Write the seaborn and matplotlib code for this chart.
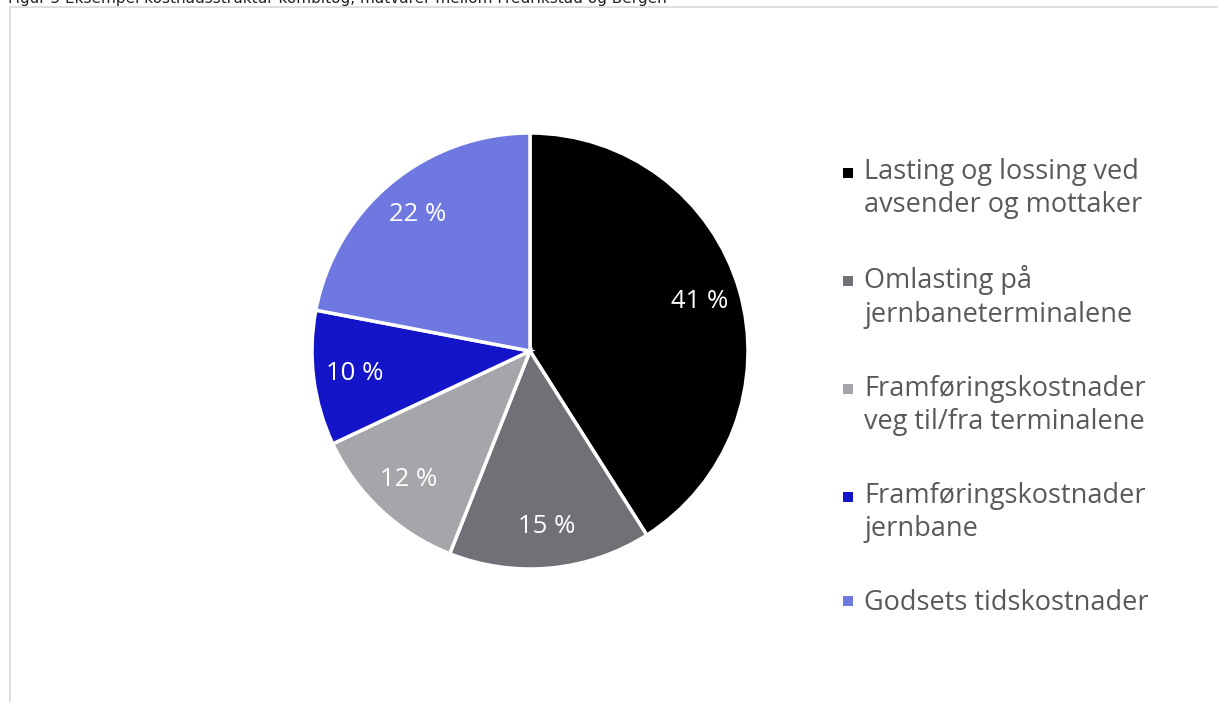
import matplotlib
matplotlib.use("Agg")
import matplotlib.pyplot as plt
import seaborn as sns
from matplotlib.patches import Rectangle
from matplotlib.legend_handler import HandlerPatch

# ---- data ----
categories = [
    "Lasting og lossing ved\navsender og mottaker",
    "Omlasting på\njernbaneterminalene",
    "Framføringskostnader\nveg til/fra terminalene",
    "Framføringskostnader\njernbane",
    "Godsets tidskostnader",
]
shares = [41, 15, 12, 10, 22]
value_labels = ["41 %", "15 %", "12 %", "10 %", "22 %"]
colors = ["#000000", "#707176", "#A5A6A9", "#1414C8", "#6E78E0"]
caption = "Figur 5 Eksempel kostnadsstruktur kombitog, matvarer mellom Fredrikstad og Bergen"

sns.set_theme(style="white")
plt.rcParams["font.family"] = ["Open Sans", "DejaVu Sans"]

W, H = 1218, 702
fig = plt.figure(figsize=(W / 100, H / 100), dpi=100)
fig.patch.set_facecolor("white")

# outer frame (partially cropped)
fig.add_artist(Rectangle((10 / W, -0.2), 1.5, 1.2 - 7 / H, transform=fig.transFigure,
                         fill=False, edgecolor="#D9D9D9", linewidth=1.2))

# caption (cut at top edge, as in the source)
fig.text(8 / W, 1 - 3 / H, caption, ha="left", va="baseline", fontsize=11,
         family=["Liberation Sans Narrow", "DejaVu Sans"], color="#222222")

cx, cy, r = 530, 351, 218
ax = fig.add_axes([(cx - r) / W, (H - cy - r) / H, 2 * r / W, 2 * r / H])
pal = sns.color_palette(colors)
wedges, texts = ax.pie(shares, colors=pal, startangle=90, counterclock=False,
                       labels=value_labels, labeldistance=0.81,
                       wedgeprops=dict(edgecolor="white", linewidth=2.5),
                       textprops=dict(color="white", fontsize=18.5))
for t in texts:
    t.set_ha("center")
    t.set_va("center")
ax.set_xlim(-1, 1)
ax.set_ylim(-1, 1)
ax.set_aspect("equal")
ax.axis("off")

LS = 1.25  # line spacing of legend labels


class TopSquare(HandlerPatch):
    def __init__(self, nlines, **kw):
        super().__init__(**kw)
        self.nlines = nlines

    def create_artists(self, legend, orig_handle, xdescent, ydescent, width, height, fontsize, trans):
        s = 0.37 * fontsize
        off = 0.5 * (self.nlines - 1) * LS * fontsize
        p = Rectangle((-xdescent, -ydescent + (height - s) / 2 + off), s, s,
                      facecolor=orig_handle.get_facecolor(), edgecolor="none", transform=trans)
        return [p]


fs = 19.5
hmap = {w: TopSquare(lab.count("\n") + 1) for w, lab in zip(wedges, categories)}
leg = fig.legend(wedges, categories, loc="upper left", bbox_to_anchor=(843 / W, 1 - 158 / H),
                 frameon=False, fontsize=fs, labelcolor="#595959", handler_map=hmap,
                 handlelength=0.37, handleheight=0.7, handletextpad=0.42,
                 labelspacing=1.7, borderpad=0, borderaxespad=0)
for t in leg.get_texts():
    t.set_linespacing(LS)

fig.savefig("out.png", dpi=100, facecolor="white")
